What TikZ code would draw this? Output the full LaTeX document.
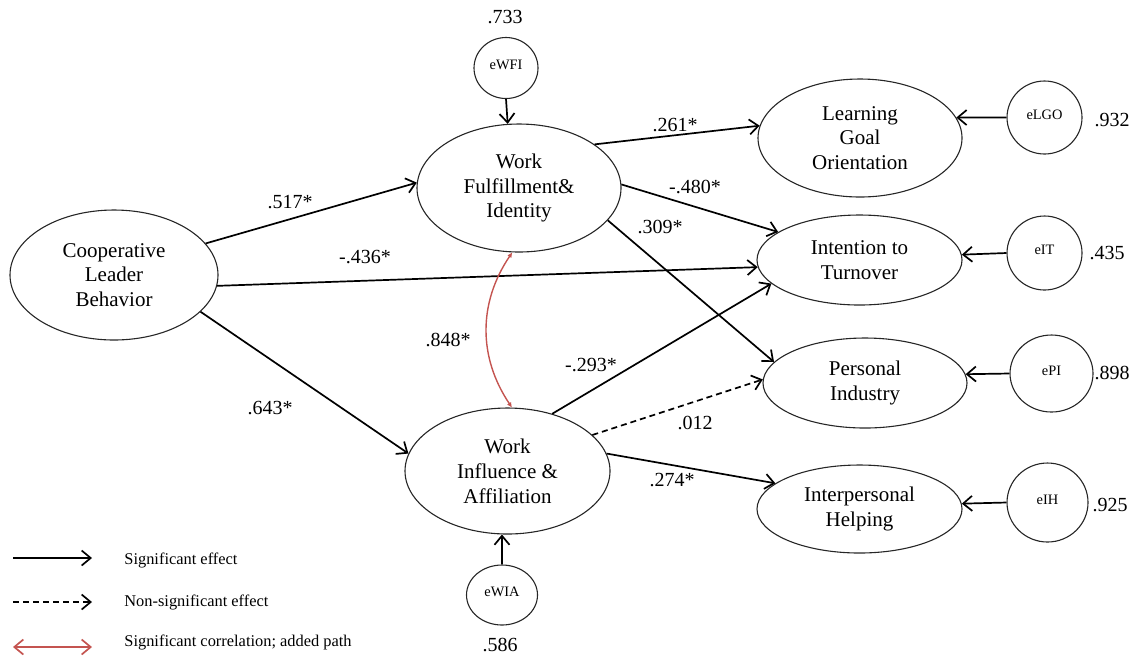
\documentclass[tikz,border=0pt]{standalone}
\usepackage{fontspec}
\setmainfont{Liberation Serif}
\usetikzlibrary{shapes.geometric,arrows.meta}
\definecolor{corrred}{RGB}{196,84,80}
\begin{document}
\begin{tikzpicture}[x=0.5pt,y=-0.5pt,
  lv/.style={draw=black!85, line width=0.55pt, ellipse, inner sep=0pt, align=center,
             font=\fontsize{10.5}{12.4}\selectfont},
  errc/.style={draw=black!85, line width=0.55pt, ellipse, inner sep=0pt,
               font=\fontsize{7.2}{8}\selectfont},
  coef/.style={font=\fontsize{10}{12}\selectfont, inner sep=0pt},
  legtext/.style={font=\fontsize{8.2}{10}\selectfont, anchor=west, inner sep=0pt},
  eff/.style={line width=0.85pt, -{Straight Barb[length=4.5pt,width=7.5pt]}},
  nseff/.style={eff, dash pattern=on 3pt off 2pt},
  corr/.style={draw=corrred, line width=0.7pt,
               {Latex[length=2.5pt,width=2.5pt]}-{Latex[length=2.5pt,width=2.5pt]}},
  corrleg/.style={draw=corrred, line width=0.85pt,
               {Straight Barb[length=4.5pt,width=7.5pt]}-{Straight Barb[length=4.5pt,width=7.5pt]}},
]
\useasboundingbox (0,0) rectangle (1138,655);

% latent variables
\node[lv, minimum width=104pt, minimum height=65pt] (clb) at (114,275) {Cooperative\\Leader\\Behavior};
\node[lv, minimum width=102pt, minimum height=64pt] (wfi) at (519,188) {Work\\Fulfillment\&\\Identity};
\node[lv, minimum width=102.5pt, minimum height=63pt] (wia) at (507.5,471) {Work\\Influence \&\\Affiliation};
\node[lv, minimum width=102pt, minimum height=59pt] (lgo) at (860,138) {Learning\\Goal\\Orientation};
\node[lv, minimum width=102.5pt, minimum height=45pt] (it) at (859.5,260) {Intention to\\Turnover};
\node[lv, minimum width=102pt, minimum height=45pt] (pi) at (865,383) {Personal\\Industry};
\node[lv, minimum width=102.5pt, minimum height=44pt] (ih) at (859.5,509) {Interpersonal\\Helping};

% error terms
\node[errc, minimum width=32pt, minimum height=30.5pt] (ewfi) at (506,68) {\raisebox{3pt}{eWFI}};
\node[errc, minimum width=35.5pt, minimum height=30pt] (ewia) at (502,595) {\raisebox{3pt}{eWIA}};
\node[errc, minimum width=37.5pt, minimum height=36.5pt] (elgo) at (1044.5,117.5) {\raisebox{3pt}{eLGO}};
\node[errc, minimum width=37.5pt, minimum height=37pt] (eit) at (1044.5,253) {\raisebox{3pt}{eIT}};
\node[errc, minimum width=41.5pt, minimum height=38.5pt] (epi) at (1051.5,373.5) {\raisebox{3pt}{ePI}};
\node[errc, minimum width=40.5pt, minimum height=39.5pt] (eih) at (1047.5,502.5) {\raisebox{3pt}{eIH}};

% structural paths
\draw[eff] (clb.19.4) -- (wfi.177);
\draw[eff] (clb.-6) -- (it.184.7);
\draw[eff] (clb.-23.8) -- (wia.170.6);
\draw[eff] (wfi.30) -- (lgo.173.4);
\draw[eff] (wfi.2.5) -- (it.161.7);
\draw[eff] (wfi.-20) -- (pi.167.8);
\draw[eff] (wia.52) -- (it.195.6);
\draw[nseff] (wia.23.4) -- (pi.178.3);
\draw[eff] (wia.10.8) -- (ih.163.8);

% residual paths
\draw[eff] (ewfi.south) -- (wfi.100);
\draw[eff] (ewia.north) -- (wia.-95);
\draw[eff] (elgo.west) -- (lgo.12.1);
\draw[eff] (eit.west) -- (it.3.95);
\draw[eff] (epi.west) -- (pi.5.44);
\draw[eff] (eih.west) -- (ih.3.67);

% correlation
\draw[corr] (wfi.-96) to[bend right=34] (wia.86);

% path coefficients
\node[coef] (k1) at (290,202) {.517*};
\node[coef] (k2) at (365,257) {-.436*};
\node[coef] (k3) at (270,408) {.643*};
\node[coef] (k4) at (675,125) {.261*};
\node[coef] (k5) at (695,187) {-.480*};
\node[coef] (k6) at (660,227) {.309*};
\node[coef] (k7) at (448,340) {.848*};
\node[coef] (k8) at (591,365) {-.293*};
\node[coef] (k9) at (695,423) {.012};
\node[coef] (k10) at (672,480) {.274*};

% residual variances
\node[coef] (r1) at (505,17) {.733};
\node[coef] (r2) at (500,645) {.586};
\node[coef] (r3) at (1112,120) {.932};
\node[coef] (r4) at (1107,253) {.435};
\node[coef] (r5) at (1112,373) {.898};
\node[coef] (r6) at (1110,505) {.925};

% legend
\coordinate (la1) at (13,558); \coordinate (lb1) at (92,558);
\coordinate (la2) at (13,602); \coordinate (lb2) at (92,602);
\coordinate (la3) at (13,647); \coordinate (lb3) at (92,647);
\draw[eff] (la1) -- (lb1);
\draw[nseff] (la2) -- (lb2);
\draw[corrleg] (la3) -- (lb3);
\node[legtext] (t1) at (124,560) {Significant effect};
\node[legtext] (t2) at (124,602) {Non-significant effect};
\node[legtext] (t3) at (124,642) {Significant correlation; added path};
\end{tikzpicture}
\end{document}
